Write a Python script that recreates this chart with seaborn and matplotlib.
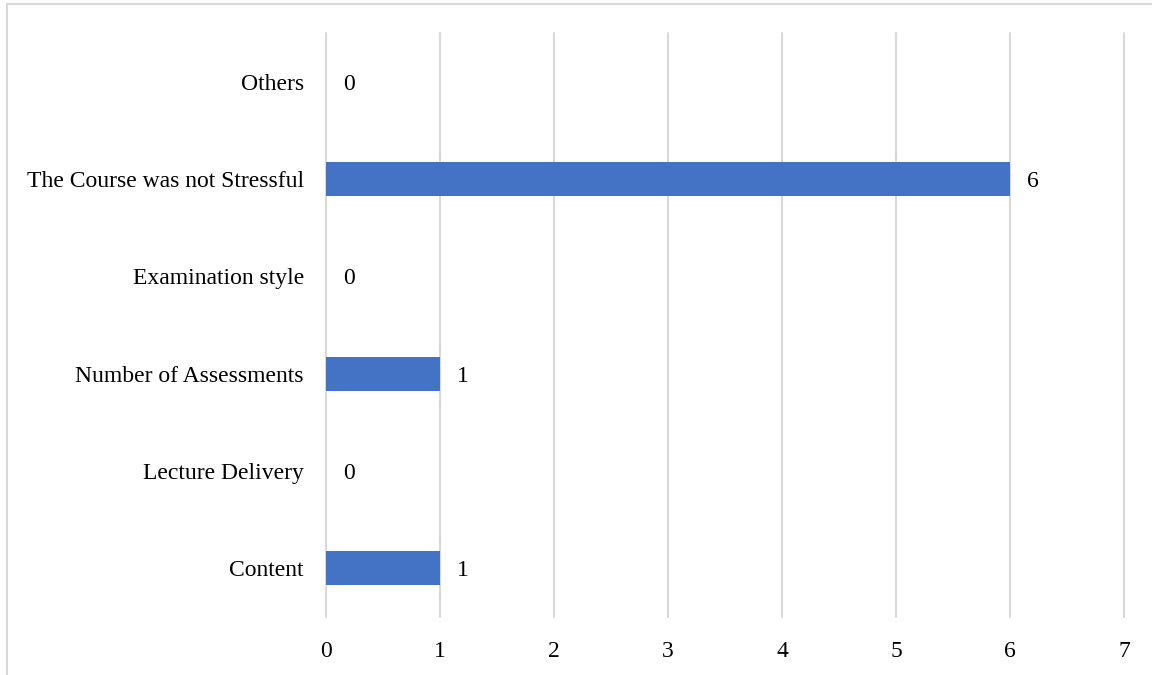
import matplotlib
matplotlib.use("Agg")
import matplotlib.pyplot as plt
import seaborn as sns
import pandas as pd
from matplotlib.patches import Rectangle

categories = ["Others", "The Course was not Stressful", "Examination style",
              "Number of Assessments", "Lecture Delivery", "Content"]
counts = [0, 6, 0, 1, 0, 1]
x_ticks = [0, 1, 2, 3, 4, 5, 6, 7]

df = pd.DataFrame({"reason": categories, "count": counts})

sns.set_theme(style="white")
plt.rcParams["font.family"] = ["Liberation Serif", "DejaVu Serif"]

fig = plt.figure(figsize=(11.52, 6.75), dpi=100)
ax = fig.add_axes([326 / 1152, 1 - 617 / 675, (1124 - 326) / 1152, (617 - 33) / 675])

sns.barplot(data=df, x="count", y="reason", orient="h", color="#4472C4",
            saturation=1, width=0.35, linewidth=0, ax=ax)

ax.set_xlim(0, 7)
ax.set_ylim(5.5, -0.5)
ax.set_xticks(x_ticks)
ax.set_xticklabels([str(t) for t in x_ticks])
ax.grid(axis="x", color="#d9d9d9", linewidth=1.5)
for gl in ax.get_xgridlines():
    gl.set_clip_on(False)
ax.set_axisbelow(True)
for s in ax.spines.values():
    s.set_visible(False)
ax.tick_params(axis="both", length=0, labelsize=17, colors="black")
ax.tick_params(axis="x", pad=17)
ax.tick_params(axis="y", pad=16)
ax.set_xlabel("")
ax.set_ylabel("")

for c in ax.containers:
    texts = ax.bar_label(c, labels=[str(v) for v in counts], padding=12,
                         fontsize=17, color="black")
    for t in texts:
        t.set_va("center_baseline")

fig.patches.append(Rectangle((7 / 1152, -0.1), 1.2, 1 - 4 / 675 + 0.1,
                             transform=fig.transFigure, fill=False,
                             edgecolor="#d9d9d9", linewidth=1.5))

fig.savefig("out.png", dpi=100)
